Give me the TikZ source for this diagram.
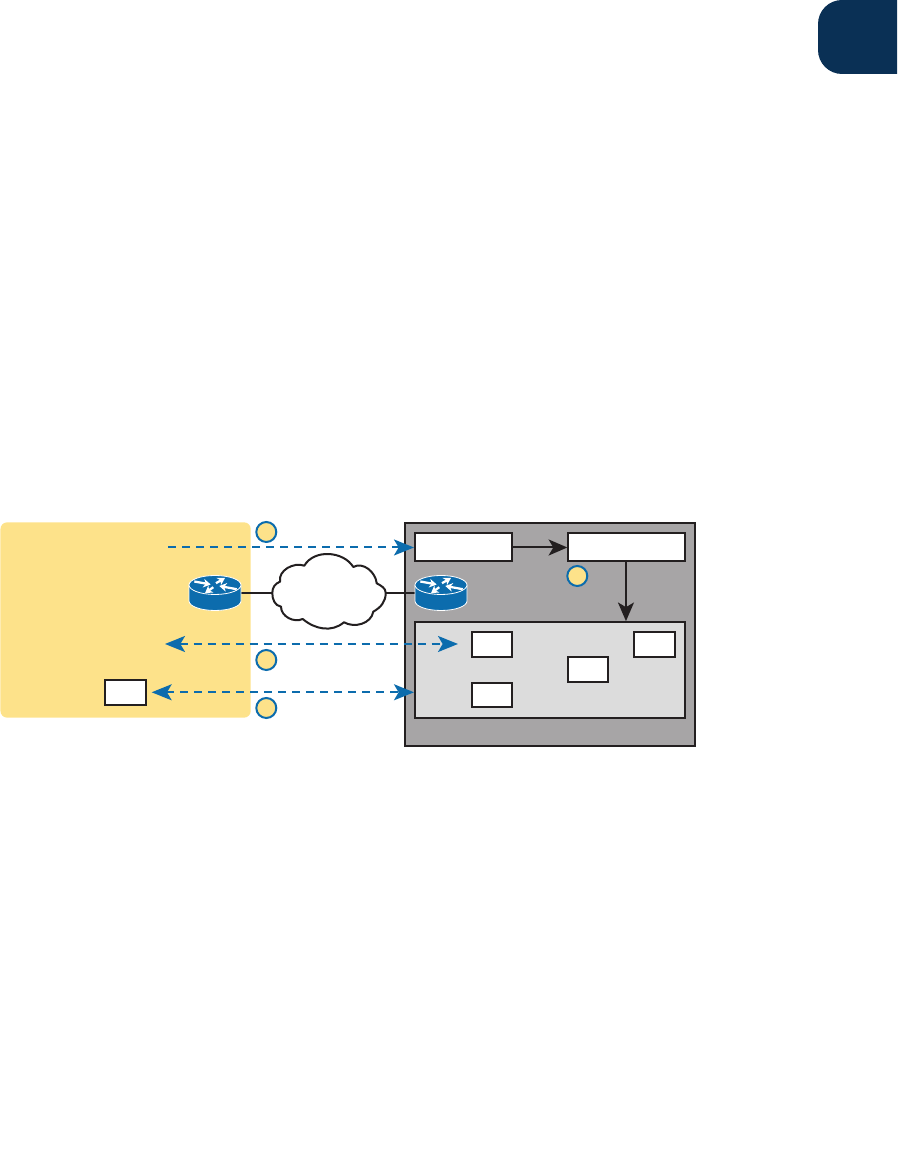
\documentclass[tikz,border=0pt]{standalone}
\usepackage{tikz}
\usetikzlibrary{arrows.meta, positioning}
\usepackage{xcolor}
\definecolor{sitefill}{RGB}{253,226,138}
\definecolor{srvfill}{RGB}{167,165,166}
\definecolor{zonefill}{RGB}{220,220,220}
\definecolor{flowblue}{RGB}{12,108,173}
\definecolor{inkblack}{RGB}{35,31,32}
\definecolor{tabnavy}{RGB}{10,48,85}

\begin{document}
\begin{tikzpicture}[
    x=0.75pt, y=0.75pt,
    node distance = 18pt and 41pt,
    outline/.style = {draw=inkblack, line width=1.5pt, inner sep=0pt},
    wbox/.style = {outline, fill=white, minimum width=30pt, minimum height=18.5pt},
    widebox/.style = {outline, fill=white, minimum height=21pt},
    marker/.style = {circle, draw=flowblue, fill=sitefill, line width=1.5pt, minimum size=15pt, inner sep=0pt},
    flow/.style = {{Stealth[length=15pt, width=12pt, inset=3.5pt]}-{Stealth[length=15pt, width=12pt, inset=3.5pt]}, flowblue, line width=1.5pt, dash pattern=on 6pt off 4.5pt},
    flowin/.style = {-{Stealth[length=15pt, width=12pt, inset=3.5pt]}, flowblue, line width=1.5pt, dash pattern=on 6pt off 4.5pt},
    arr/.style = {-{Stealth[length=14pt, width=12pt, inset=3.5pt]}, inkblack, line width=1.5pt},
    wire/.style = {inkblack, line width=1.5pt},
    rtr/.style = {minimum width=39pt, minimum height=26pt, inner sep=0pt, outer sep=0pt},
    rtrarrow/.style = {-{Stealth[length=5.5pt, width=6.5pt]}, white, line width=1.7pt},
    router/.pic = {
      \draw[white, fill=flowblue, line width=0.6pt] (-26,8) -- (-26,-8) arc[start angle=180, end angle=360, x radius=26, y radius=9.5] -- (26,8);
      \draw[white, fill=flowblue, line width=0.6pt] (0,8) ellipse[x radius=26, y radius=9.5];
      \draw[rtrarrow] (-20.7,11.5) -- (-4.3,8.5);
      \draw[rtrarrow] (-1.7,5.8) -- (-10,-0.2);
      \draw[rtrarrow] (1,9.8) -- (10,15);
      \draw[rtrarrow] (21.7,3.8) -- (4.3,7);
    },
  ]
    \useasboundingbox (0,0) rectangle (897,1173);

    % Corner tab
    \fill[tabnavy, rounded corners=18pt] (897,1173) -- (818,1173) -- (818,1099) -- (897,1099);

    % Left site
    \node[fill=sitefill, rounded corners=5pt, minimum width=187.7pt, minimum height=146.5pt, inner sep=0pt, outer sep=0pt] (site) at (125.6,553) {};
    \node[wbox, minimum width=30.75pt] (host) at (125.5,480.7) {};

    % Right side: server frame with its boxes
    \node[outline, fill=srvfill, minimum width=217pt, minimum height=166.8pt] (srv) at (550,538.5) {};
    \node[widebox, minimum width=72.5pt] (nameA) at (463.3,625.5) {};
    \node[widebox, minimum width=87.5pt, right=of nameA] (nameB) {};
    \node[outline, fill=zonefill, minimum width=202.5pt, minimum height=71.8pt, below=44pt of nameA.south west, anchor=north west] (zone) {};
    \node[wbox] (recA) at (492.2,528.5) {};
    \node[wbox, below=of recA] (recB) {};
    \node[wbox] (recC) at (588.2,503.7) {};
    \node[wbox, minimum width=30.75pt] (recD) at (654.7,528.5) {};

    % Routers
    \node[rtr] (rtrL) at (215,580) {};
    \node[rtr] (rtrR) at (441,580) {};
    \coordinate (cloudW) at (272.3,580);
    \coordinate (cloudE) at (385.7,580);
    \draw[wire] (rtrL.east) -- (cloudW);
    \draw[wire] (cloudE) -- (rtrR.west);
    \pic at (rtrL) {router};
    \pic at (rtrR) {router};

    % Cloud
    \draw[inkblack, fill=white, line width=1.5pt, line join=round]
      (304.3,607.3) to[out=60, in=122] (353.3,606)
      to[out=30, in=95] (376.7,589.7)
      to[out=-30, in=90] (cloudE)
      to[out=-90, in=30] (373.3,561.3)
      to[out=-100, in=-30] (344,550.7)
      to[out=-140, in=-40] (302.7,554)
      to[out=-155, in=-90] (281,566.3)
      to[out=170, in=-90] (cloudW)
      to[out=90, in=200] (280,591.3)
      to[out=100, in=160] cycle;

    % Dashed flows
    \coordinate (srcTop) at (168,625.5);
    \coordinate (hostL) at (165,529);
    \coordinate (hostR) at (458,529);
    \draw[flowin] (srcTop) -- (nameA.west);
    \draw[flow] (hostL) -- (hostR);
    \draw[flow, shorten <=3.5pt] (host.east) -- (host.east -| zone.west);

    % Solid arrows
    \draw[arr] (nameA) -- (nameB);
    \draw[arr] ([xshift=-0.5pt]nameB.south) -- ([xshift=-0.5pt]nameB.south |- zone.north);

    % Step markers
    \node[marker] (stepA) at (266.3,641) {};
    \node[marker] (stepB) at (266.3,513) {};
    \node[marker] (stepC) at (266.3,465) {};
    \node[marker] (stepD) at (577.3,597) {};
  \end{tikzpicture}
\end{document}
